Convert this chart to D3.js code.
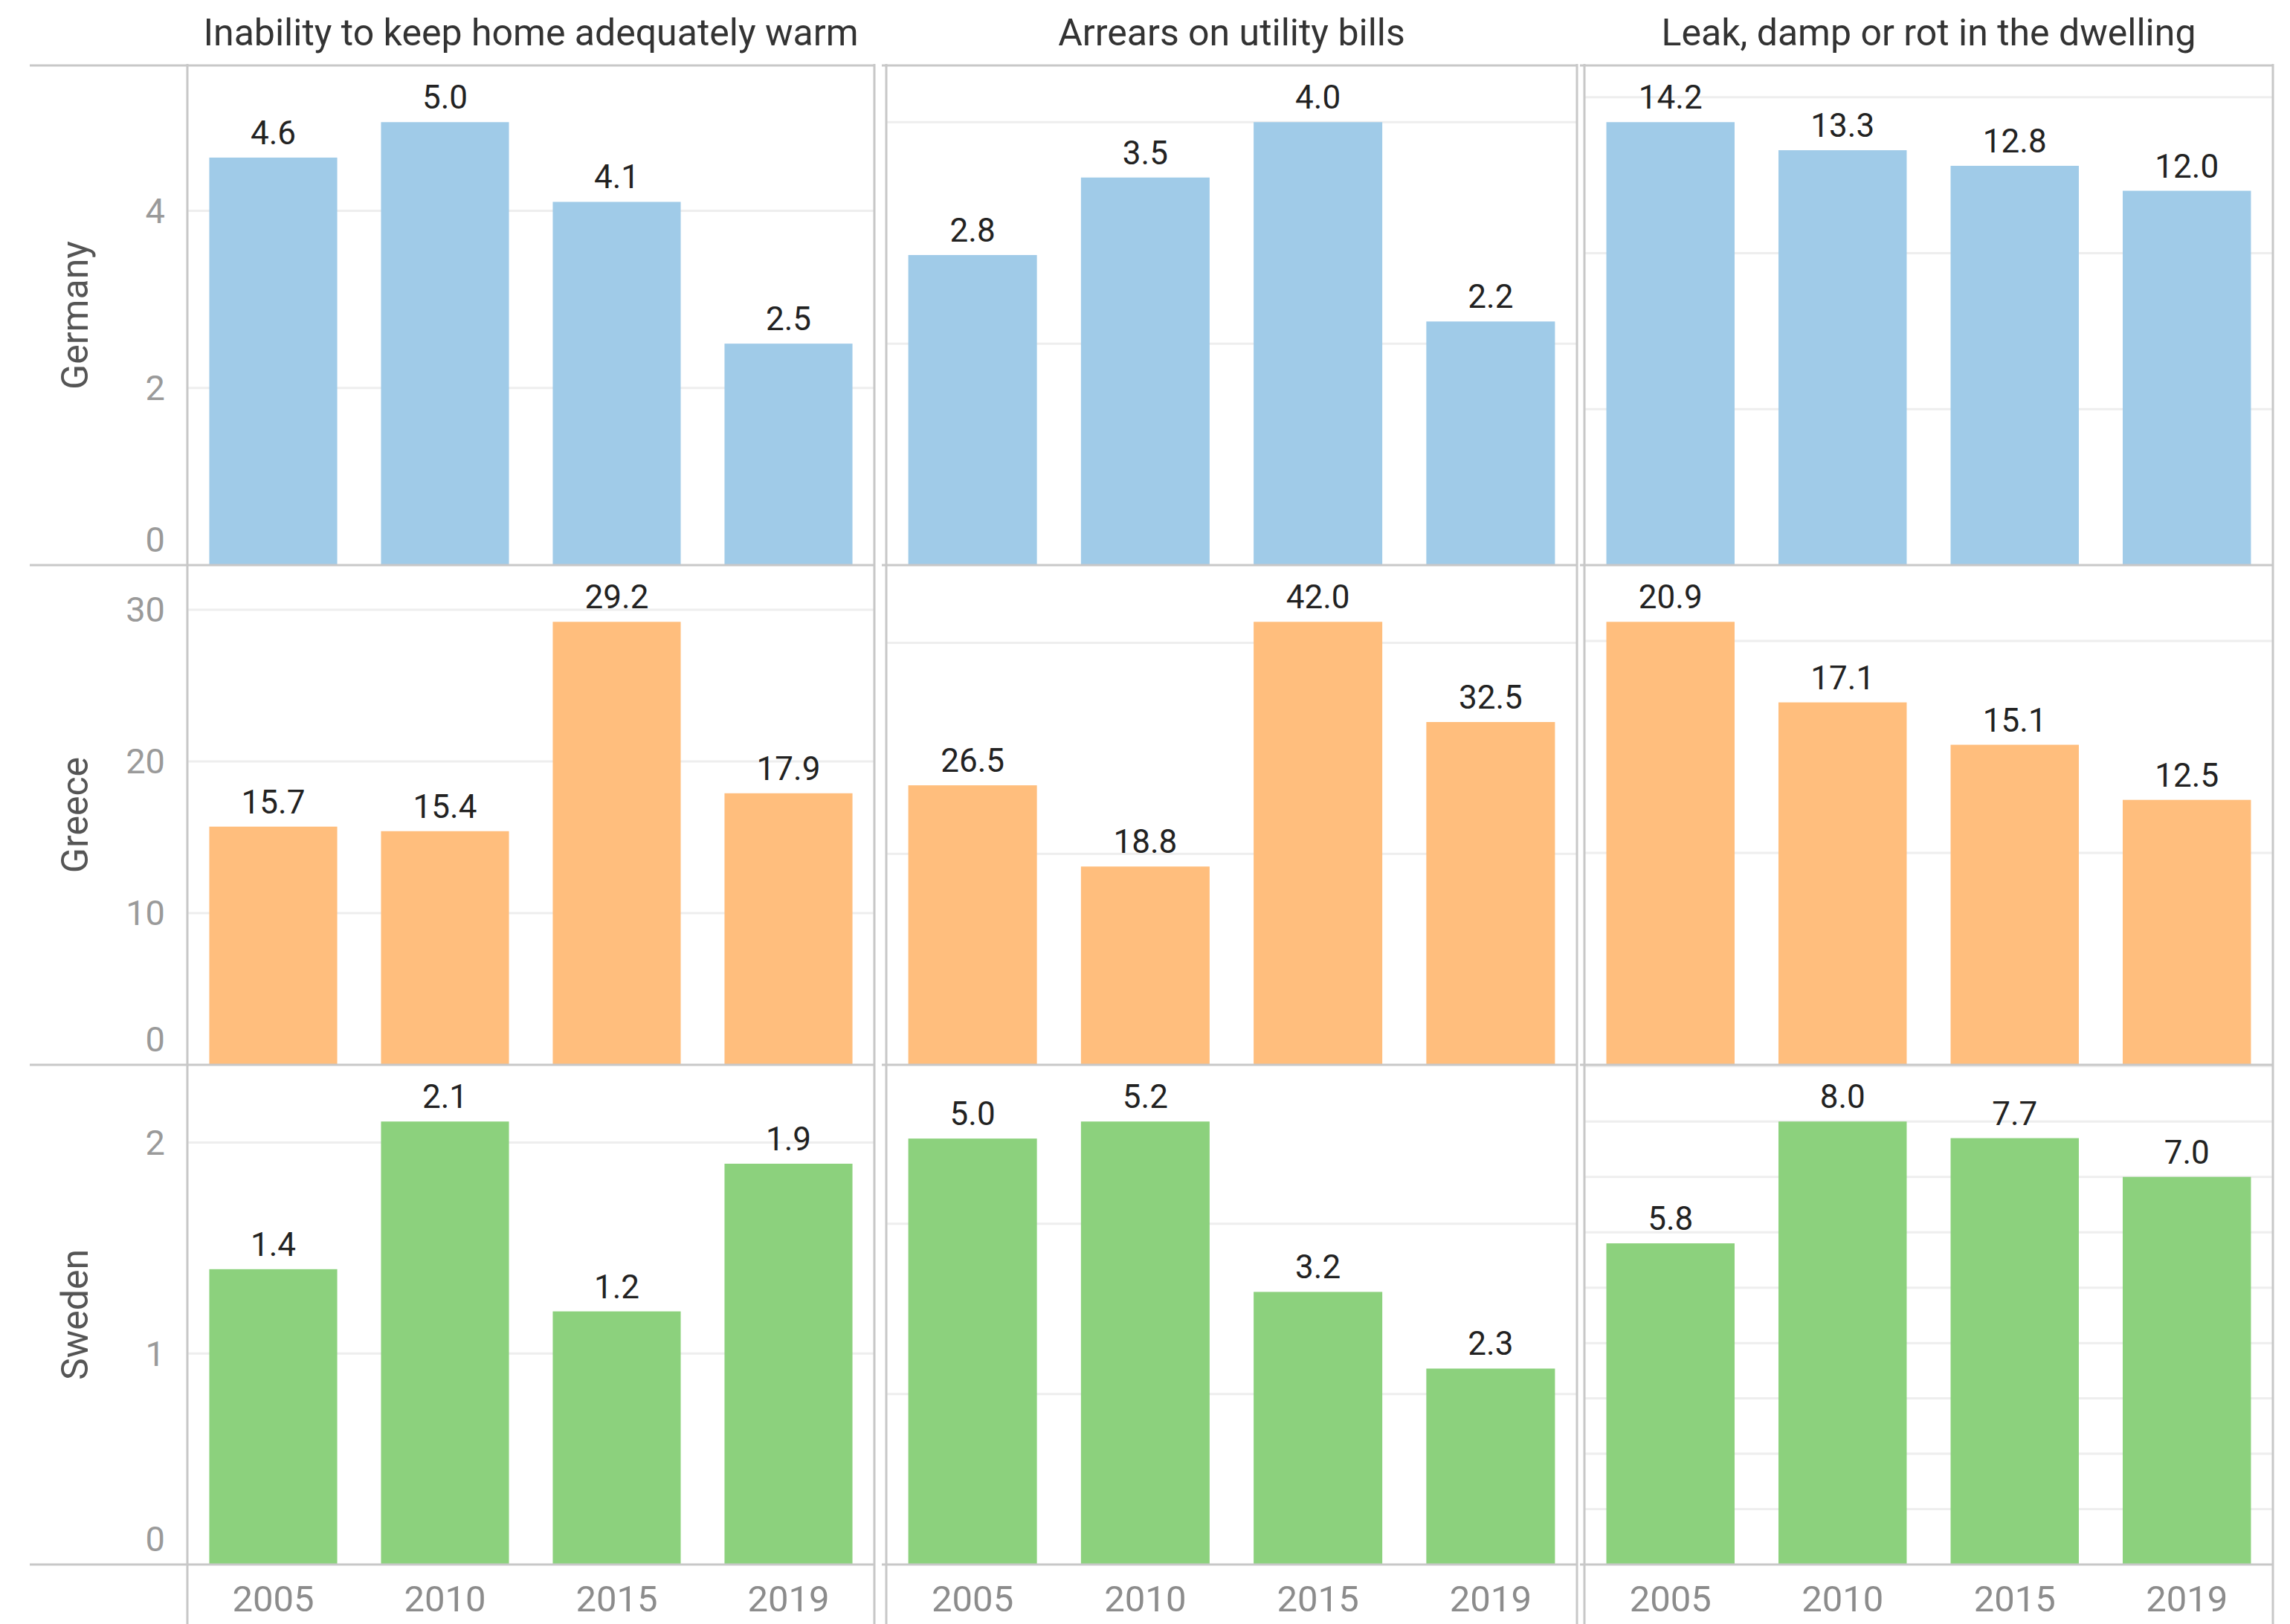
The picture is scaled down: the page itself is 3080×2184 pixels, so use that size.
<!DOCTYPE html>
<html>
<head>
<meta charset="utf-8">
<script src="https://cdn.jsdelivr.net/npm/d3@7"></script>
<style>
  html, body { margin: 0; padding: 0; background: #ffffff; }
  svg { display: block; }
  text { font-family: Roboto, "Open Sans", "DejaVu Sans", sans-serif; }
</style>
</head>
<body>
<svg id="chart" width="3080" height="2184"></svg>
<script>
// ---------------- data ----------------
const years = ["2005", "2010", "2015", "2019"];
const countries = ["Germany", "Greece", "Sweden"];
const indicators = [
  "Inability to keep home adequately warm",
  "Arrears on utility bills",
  "Leak, damp or rot in the dwelling"
];

const germanyWarm    = [4.6, 5.0, 4.1, 2.5];
const germanyArrears = [2.8, 3.5, 4.0, 2.2];
const germanyLeak    = [14.2, 13.3, 12.8, 12.0];

const greeceWarm     = [15.7, 15.4, 29.2, 17.9];
const greeceArrears  = [26.5, 18.8, 42.0, 32.5];
const greeceLeak     = [20.9, 17.1, 15.1, 12.5];

const swedenWarm     = [1.4, 2.1, 1.2, 1.9];
const swedenArrears  = [5.0, 5.2, 3.2, 2.3];
const swedenLeak     = [5.8, 8.0, 7.7, 7.0];

// axis tick steps per pane (row = country, column = indicator)
const germanyTickSteps = [2, 2, 5];
const greeceTickSteps  = [10, 20, 10];
const swedenTickSteps  = [1, 2, 1];

const rowColors = ["#A0CBE8", "#FFBE7D", "#8CD17D"];

// ---------------- layout ----------------
const values = [
  [germanyWarm, germanyArrears, germanyLeak],
  [greeceWarm, greeceArrears, greeceLeak],
  [swedenWarm, swedenArrears, swedenLeak]
];
const tickSteps = [germanyTickSteps, greeceTickSteps, swedenTickSteps];

const W = 3080, H = 2184;
const colEdges = [[252, 1176], [1192, 2121], [2131, 3057]];
const rowTop = 88, rowH = 672;
const headerLeft = 40;
const gridColor = "#eeeeee";
const borderColor = "#c8c8c8";

const svg = d3.select("#chart");
svg.append("rect").attr("width", W).attr("height", H).attr("fill", "#fff");

const gGrid = svg.append("g");
const gBars = svg.append("g");
const gBorders = svg.append("g");
const gText = svg.append("g");

values.forEach((rowVals, ri) => {
  const y0 = rowTop + ri * rowH;
  const y1 = y0 + rowH;
  rowVals.forEach((vals, ci) => {
    const [x0, x1] = colEdges[ci];
    const x = d3.scaleBand().domain(years).range([x0, x1])
      .paddingInner(0.255).paddingOuter(0.1275);
    const vmax = d3.max(vals);
    const y = d3.scaleLinear().domain([0, vmax * 1.128]).range([y1, y0]);
    const step = tickSteps[ri][ci];
    const ticks = d3.range(0, y.domain()[1], step);

    // gridlines
    gGrid.selectAll(null).data(ticks.filter(t => t > 0)).enter().append("line")
      .attr("x1", x0).attr("x2", x1)
      .attr("y1", d => y(d)).attr("y2", d => y(d))
      .attr("stroke", gridColor).attr("stroke-width", 3);

    // bars
    const data = years.map((yr, i) => ({ yr, v: vals[i] }));
    gBars.selectAll(null).data(data).enter().append("rect")
      .attr("x", d => x(d.yr))
      .attr("width", x.bandwidth())
      .attr("y", d => y(d.v))
      .attr("height", d => y(0) - y(d.v))
      .attr("fill", rowColors[ri]);

    // value labels
    gText.selectAll(null).data(data).enter().append("text")
      .attr("x", d => x(d.yr) + x.bandwidth() / 2)
      .attr("y", d => y(d.v) - 18)
      .attr("text-anchor", "middle")
      .attr("font-size", 44)
      .attr("fill", "#222222")
      .text(d => d.v.toFixed(1));

    // y tick labels on the first column
    if (ci === 0) {
      gText.selectAll(null).data(ticks).enter().append("text")
        .attr("x", x0 - 30)
        .attr("y", d => Math.min(y(d), y1 - 34))
        .attr("dy", "0.35em")
        .attr("text-anchor", "end")
        .attr("font-size", 47)
        .attr("fill", "#9a9a9a")
        .text(d => d3.format("d")(d));
    }

    // x labels on the last row
    if (ri === values.length - 1) {
      gText.selectAll(null).data(years).enter().append("text")
        .attr("x", d => x(d) + x.bandwidth() / 2)
        .attr("y", y1 + 46)
        .attr("dy", "0.35em")
        .attr("text-anchor", "middle")
        .attr("font-size", 49)
        .attr("fill", "#8c8c8c")
        .text(d => d);
    }
  });

  // row header
  gText.append("text")
    .attr("transform", `translate(100, ${(y0 + y1) / 2}) rotate(-90)`)
    .attr("text-anchor", "middle")
    .attr("dy", "0.35em")
    .attr("font-size", 50)
    .attr("fill", "#555555")
    .text(countries[ri]);
});

// column titles
indicators.forEach((t, ci) => {
  const [x0, x1] = colEdges[ci];
  gText.append("text")
    .attr("x", (x0 + x1) / 2)
    .attr("y", 61)
    .attr("text-anchor", "middle")
    .attr("font-size", 50)
    .attr("fill", "#333333")
    .text(t);
});

// borders: horizontal row lines
const rowLines = d3.range(values.length + 1).map(i => rowTop + i * rowH);
colEdges.forEach(([x0, x1], ci) => {
  gBorders.selectAll(null).data(rowLines).enter().append("line")
    .attr("x1", ci === 0 ? headerLeft : x0 - 6).attr("x2", x1)
    .attr("y1", d => d).attr("y2", d => d)
    .attr("stroke", borderColor).attr("stroke-width", 3);
  // vertical pane edges
  gBorders.selectAll(null).data([x0, x1]).enter().append("line")
    .attr("x1", d => d).attr("x2", d => d)
    .attr("y1", rowTop - 2).attr("y2", H)
    .attr("stroke", borderColor).attr("stroke-width", 3);
});
</script>
</body>
</html>
